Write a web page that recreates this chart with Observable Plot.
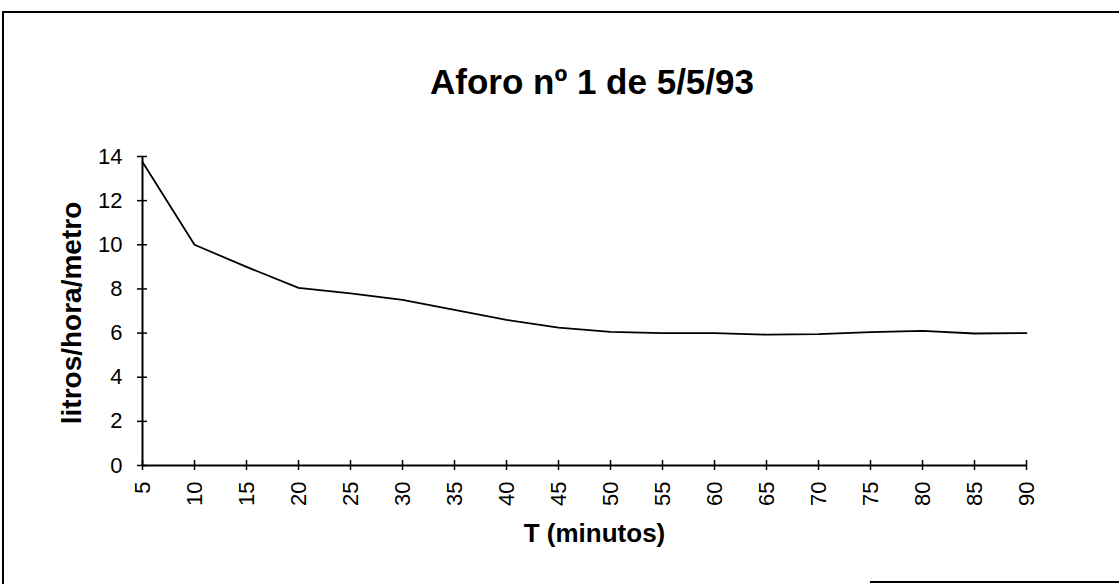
<!DOCTYPE html>
<html>
<head>
<meta charset="utf-8">
<script src="https://cdn.jsdelivr.net/npm/d3@7"></script>
<script src="https://cdn.jsdelivr.net/npm/@observablehq/plot@0.6"></script>
<style>
  html, body { margin: 0; padding: 0; background: #fff; }
  body { width: 1119px; height: 584px; position: relative; overflow: hidden;
         font-family: "Liberation Sans", Arial, sans-serif; }
  #frame { position: absolute; left: 2px; top: 11px; width: 1117px; height: 573px;
           border-left: 2px solid #000; border-top: 2px solid #000; box-sizing: border-box; }
  #bottomline { position: absolute; left: 870px; top: 581px; width: 249px; height: 0;
           border-top: 2px solid #000; }
  #title { position: absolute; left: 0; width: 1184px; top: 62px; text-align: center;
           font-weight: bold; font-size: 35px; line-height: 40px; color: #000; }
  #chart { position: absolute; left: 0; top: 120px; }
</style>
</head>
<body>
<div id="frame"></div>
<div id="bottomline"></div>
<div id="title">Aforo nº 1 de 5/5/93</div>
<div id="chart"></div>
<script>
const minutes = [5, 10, 15, 20, 25, 30, 35, 40, 45, 50, 55, 60, 65, 70, 75, 80, 85, 90];
const caudal  = [13.75, 10.0, 9.0, 8.05, 7.8, 7.5, 7.05, 6.6, 6.25, 6.05, 6.0, 6.0, 5.93, 5.95, 6.04, 6.1, 5.98, 6.0];
const xTicks = minutes;
const yTicks = [0, 2, 4, 6, 8, 10, 12, 14];
const xLabel = "T (minutos)";
const yLabel = "litros/hora/metro";

const data = minutes.map((m, i) => ({ m, v: caudal[i] }));

const chart = Plot.plot({
  width: 1119,
  height: 460,
  marginTop: 36,
  marginBottom: 115,
  marginLeft: 142,
  marginRight: 93,
  style: { fontFamily: "'Liberation Sans', Arial, sans-serif", background: "transparent", color: "#000" },
  x: { domain: [5, 90], ticks: xTicks },
  y: { domain: [0, 14], ticks: yTicks },
  marks: [
    Plot.ruleX([5], { stroke: "#000", strokeWidth: 2 }),
    Plot.ruleY([0], { stroke: "#000", strokeWidth: 2 }),
    Plot.axisY(yTicks, { tickSize: 10, dx: 5, text: null, label: null, stroke: "#000", strokeWidth: 1.5, strokeOpacity: 1 }),
    Plot.axisY(yTicks, { tickSize: 0, tickPadding: 20, label: null, fontSize: 22, fill: "#000" }),
    Plot.axisX(xTicks, { tickSize: 10, dy: -5, text: null, label: null, stroke: "#000", strokeWidth: 1.5, strokeOpacity: 1 }),
    Plot.axisX(xTicks, { tickSize: 0, tickPadding: 16, tickRotate: -90, label: null, fontSize: 22, fill: "#000" }),
    Plot.line(data, { x: "m", y: "v", stroke: "#000", strokeWidth: 1.8 }),
    Plot.text([yLabel], { frameAnchor: "left", textAnchor: "middle", rotate: -90, dx: -70, dy: 2, fontWeight: "bold", fontSize: 28, fill: "#000" }),
    Plot.text([xLabel], { frameAnchor: "bottom", dy: 76, dx: 10, fontWeight: "bold", fontSize: 26, fill: "#000" })
  ]
});
document.getElementById("chart").appendChild(chart);
</script>
</body>
</html>
